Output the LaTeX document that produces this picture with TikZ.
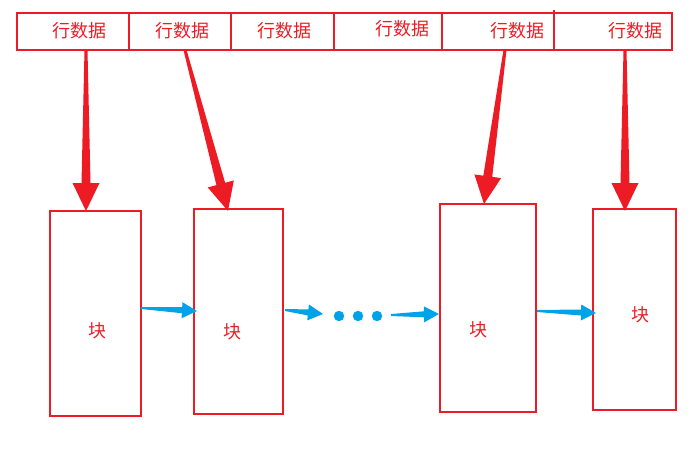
\documentclass[tikz,border=0pt]{standalone}
\usepackage{fontspec}
\newfontfamily\cjk{Noto Sans CJK SC}
\usetikzlibrary{calc}
\definecolor{rred}{HTML}{ED1C24}
\definecolor{bblue}{HTML}{00A2E8}
% tapered arrow: from, to, head length, head half width, tail half width, neck half width, colour
\newcommand\taperarrow[7]{%
  \coordinate (tpH) at ($(#2)!#3!(#1)$);
  \fill[#7] ($(#1)!#5!90:(#2)$) -- ($(tpH)!#6!-90:(#1)$) -- ($(tpH)!#4!-90:(#1)$) -- (#2)
     -- ($(tpH)!#4!90:(#1)$) -- ($(tpH)!#6!90:(#1)$) -- ($(#1)!#5!-90:(#2)$) -- cycle;}
\begin{document}
\begin{tikzpicture}[x=1pt,y=-1pt,
  cell/.style={draw=rred,line width=1.8pt,anchor=north west,minimum height=37pt,inner sep=0pt,outer sep=0pt},
  blk/.style={draw=rred,line width=1.8pt,anchor=north west,inner sep=0pt,outer sep=0pt},
  lbl/.style={text=rred,font=\cjk\fontsize{18}{20}\selectfont,inner sep=0pt}]
\useasboundingbox (0,0) rectangle (690,464);
% top row cells
\node[cell,minimum width=112pt] (c1) at (17,13) {};
\node[cell,minimum width=102pt] (c2) at (129,13) {};
\node[cell,minimum width=103pt] (c3) at (231,13) {};
\node[cell,minimum width=108pt] (c4) at (334,13) {};
\node[cell,minimum width=112pt] (c5) at (442,13) {};
\node[cell,minimum width=118pt] (c6) at (554,13) {};
\coordinate (d6top) at (554,10);
\draw[rred,line width=1.8pt] (d6top) -- (c6.north west);
\node[lbl] (t1) at (79,31) {行数据};
\node[lbl] (t2) at (182,31) {行数据};
\node[lbl] (t3) at (284,31) {行数据};
\node[lbl] (t4) at (402,29) {行数据};
\node[lbl] (t5) at (517,31) {行数据};
\node[lbl] (t6) at (635,31) {行数据};
% blocks
\node[blk,minimum width=91pt,minimum height=205pt] (b1) at (50,211) {};
\node[blk,minimum width=89pt,minimum height=205pt] (b2) at (194,209) {};
\node[blk,minimum width=96pt,minimum height=208pt] (b3) at (440,204) {};
\node[blk,minimum width=83pt,minimum height=201pt] (b4) at (593,209) {};
\node[lbl] (k1) at (97,331) {块};
\node[lbl] (k2) at (232,332) {块};
\node[lbl] (k3) at (478,330) {块};
\node[lbl] (k4) at (640,315) {块};
% red arrow ends
\coordinate (r1s) at (86,50);  \coordinate (r1e) at (86,211);
\coordinate (r2s) at (185,50); \coordinate (r2e) at (228,211);
\coordinate (r3s) at (505,50); \coordinate (r3e) at (484,204);
\coordinate (r4s) at (625,50); \coordinate (r4e) at (625,211);
\taperarrow{r1s}{r1e}{28pt}{13.5pt}{1.5pt}{4.5pt}{rred}
\taperarrow{r2s}{r2e}{28pt}{13.5pt}{1.5pt}{4.5pt}{rred}
\taperarrow{r3s}{r3e}{28pt}{13.5pt}{1.5pt}{4.5pt}{rred}
\taperarrow{r4s}{r4e}{28pt}{13.5pt}{1.5pt}{4.5pt}{rred}
% blue arrow ends
\coordinate (u1s) at (141,308); \coordinate (u1e) at (197,311);
\coordinate (u2s) at (285,310); \coordinate (u2e) at (323,314);
\coordinate (u3s) at (391,315); \coordinate (u3e) at (439,314);
\coordinate (u4s) at (537,311); \coordinate (u4e) at (596,313);
\taperarrow{u1s}{u1e}{15pt}{8pt}{1pt}{3pt}{bblue}
\taperarrow{u2s}{u2e}{15pt}{8pt}{1pt}{3pt}{bblue}
\taperarrow{u3s}{u3e}{15pt}{8pt}{1pt}{3pt}{bblue}
\taperarrow{u4s}{u4e}{15pt}{8pt}{1pt}{3pt}{bblue}
% dots
\fill[bblue] (339,316) circle (5.2pt);
\fill[bblue] (358,316) circle (5.2pt);
\fill[bblue] (377,316) circle (5.2pt);
\end{tikzpicture}
\end{document}
